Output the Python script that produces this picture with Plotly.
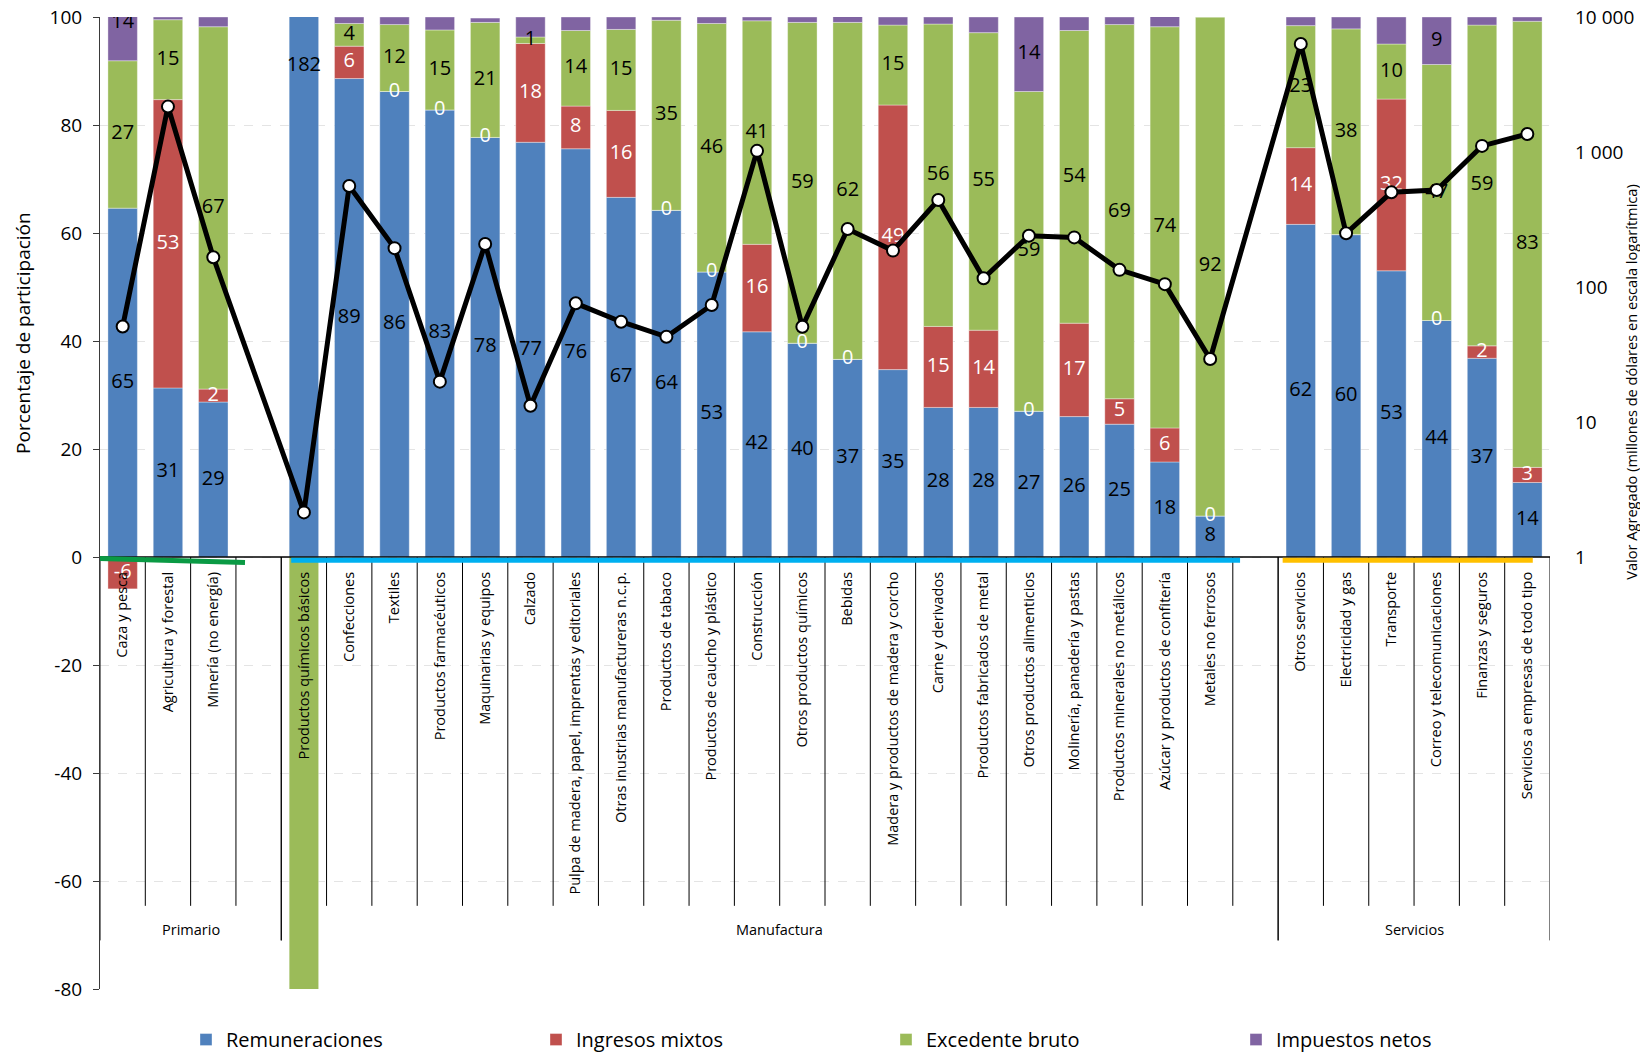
import plotly.graph_objects as go

FONT = "Open Sans"

# ---------------- data ----------------
grupos = ["Primario", "Manufactura", "Servicios"]

primario = ["Caza y pesca", "Agricultura y forestal", "Minería (no energía)"]
manufactura = [
    "Productos químicos básicos", "Confecciones", "Textiles", "Productos farmacéuticos",
    "Maquinarias y equipos", "Calzado", "Pulpa de madera, papel, imprentas y editoriales",
    "Otras inustrias manufactureras n.c.p.", "Productos de tabaco",
    "Productos de caucho y plástico", "Construcción", "Otros productos químicos", "Bebidas",
    "Madera y productos de madera y corcho", "Carne y derivados",
    "Productos fabricados de metal", "Otros productos alimenticios",
    "Molinería, panadería y pastas", "Productos minerales no metálicos",
    "Azúcar y productos de confitería", "Metales no ferrosos",
]
servicios = [
    "Otros servicios", "Electricidad y gas", "Transporte", "Correo y telecomunicaciones",
    "Finanzas y seguros", "Servicios a empresas de todo tipo",
]

remuneraciones = [64.6, 31.3, 28.7,
                  182, 88.6, 86.2, 82.8, 77.7, 76.8, 75.6, 66.6, 64.2, 52.8, 41.7, 39.6, 36.6,
                  34.7, 27.7, 27.7, 27.0, 26.0, 24.6, 17.6, 7.6,
                  61.6, 59.7, 53.0, 43.8, 36.8, 13.8]
ingresos_mixtos = [-5.9, 53.4, 2.4,
                   0, 6.0, 0, 0, 0, 18.3, 7.9, 16.1, 0, 0, 16.2, 0, 0,
                   49.0, 15.0, 14.3, 0, 17.3, 4.7, 6.3, 0,
                   14.2, 0, 31.8, 0, 2.3, 2.8]
excedente_bruto = [27.3, 14.8, 67.1,
                   -82, 4.2, 12.4, 14.8, 21.3, 1.2, 14.0, 15.0, 35.2, 46.0, 41.4, 59.4, 62.4,
                   14.8, 56.0, 55.1, 59.2, 54.2, 69.3, 74.3, 92.4,
                   22.6, 38.1, 10.2, 47.4, 59.4, 82.6]
impuestos_netos = [13.9, 0.5, 1.8,
                   0, 1.2, 1.4, 2.4, 0.8, 3.7, 2.5, 2.3, 0.6, 1.2, 0.7, 1.0, 1.1,
                   1.5, 1.3, 2.9, 13.8, 2.5, 1.4, 2.0, 0,
                   1.6, 2.2, 5.0, 8.8, 1.5, 0.8]
valor_agregado = [51, 2170, 166,
                  2.14, 560, 194, 19.9, 208, 13.2, 75.7, 55.3, 42.8, 73.5, 1020, 50.8, 269,
                  186, 441, 116, 240, 233, 134, 105, 29.3,
                  6310, 250, 503, 523, 1110, 1360]

pct_ticks = [-80, -60, -40, -20, 0, 20, 40, 60, 80, 100]
va_ticks = [1, 10, 100, 1000, 10000]
va_ticktext = ["1", "10", "100", "1 000", "10 000"]

# ---------------- styles ----------------
series = [
    ("Remuneraciones", remuneraciones, "#4F81BD", "black", None),
    ("Ingresos mixtos", ingresos_mixtos, "#C0504D", "white", None),
    ("Excedente bruto", excedente_bruto, "#9BBB59", "black", None),
    ("Impuestos netos", impuestos_netos, "#8064A2", "black", 8),
]
accent = [("#0A9A44", -0.0, 0.7), ("#00B0F0", 0.22, 0.66), ("#FFC000", 0.1, 0.12)]
Y_RANGE = [-80, 100]

# ---------------- positions (one blank slot between groups) ----------------
grupo_cats = [primario, manufactura, servicios]
pos, cats, spans = [], [], []
s = 0
for gi, gc in enumerate(grupo_cats):
    start = s
    for c in gc:
        pos.append(s)
        cats.append(c)
        s += 1
    last = s - 1
    if gi < len(grupo_cats) - 1:
        s += 1
    spans.append((start, s - 1, last))
n = len(pos)

fig = go.Figure()

for name, vals, col, tcol, thr in series:
    fig.add_trace(go.Bar(
        x=pos, y=vals, name=name, width=0.65,
        marker=dict(color=col, line=dict(width=0.6, color="rgba(255,255,255,0.6)")),
        hoverinfo="skip",
    ))

# segment labels centred in each stacked segment
pbase = [0.0] * n
nbase = [0.0] * n
for name, vals, col, tcol, thr in series:
    xs, ys, txt = [], [], []
    for i, v in enumerate(vals):
        if v >= 0:
            c = pbase[i] + v / 2
            pbase[i] += v
        else:
            c = nbase[i] + v / 2
            nbase[i] += v
        show = (v > -50 and (thr is None or v >= thr)
                and Y_RANGE[0] < c < Y_RANGE[1])
        if show:
            xs.append(pos[i])
            ys.append(c)
            txt.append(str(int(round(v))))
    fig.add_trace(go.Scatter(
        x=xs, y=ys, mode="text", text=txt,
        textfont=dict(color=tcol, size=20, family=FONT),
        showlegend=False, hoverinfo="skip",
    ))

fig.add_trace(go.Scatter(
    x=pos, y=valor_agregado, yaxis="y2", mode="lines+markers",
    line=dict(color="black", width=5),
    marker=dict(size=12, color="white", line=dict(color="black", width=2)),
    showlegend=False, hoverinfo="skip",
))

shapes = []
shapes.append(dict(type="line", xref="x", yref="y", x0=-0.5, x1=31.5, y0=0, y1=0,
                   line=dict(color="black", width=1.5), layer="above"))
for gi, (start, span_end, last) in enumerate(spans):
    for b in range(start, span_end):
        shapes.append(dict(type="line", xref="x", yref="y", x0=b + 0.5, x1=b + 0.5,
                           y0=0, y1=-64.6, line=dict(color="black", width=1), layer="above"))
    for b in (start - 0.5, span_end + 0.5):
        shapes.append(dict(type="line", xref="x", yref="y", x0=b, x1=b,
                           y0=0, y1=-71, line=dict(color="black", width=1), layer="above"))
    col, o0, o1 = accent[gi]
    x0 = start - 0.5 + o0
    x1 = last + o1
    y0, y1 = (-0.3, -1.0) if gi == 0 else (-0.6, -0.6)
    shapes.append(dict(type="line", xref="x", yref="y", x0=x0, x1=x1, y0=y0, y1=y1,
                       line=dict(color=col, width=5), layer="above"))

annotations = []
for gi, (start, span_end, last) in enumerate(spans):
    annotations.append(dict(x=(start + span_end) / 2, y=-69, xref="x", yref="y",
                            text=grupos[gi], showarrow=False,
                            font=dict(size=14.5, family=FONT, color="black"),
                            xanchor="center", yanchor="middle"))
annotations.append(dict(x=-0.0531, y=0.675, xref="paper", yref="paper",
                        text="Porcentaje de participación", textangle=-90, showarrow=False,
                        font=dict(size=19, family=FONT, color="black"),
                        xanchor="center", yanchor="middle"))
annotations.append(dict(x=1.0559, y=0.6238, xref="paper", yref="paper",
                        text="Valor Agregado (millones de dólares en escala logarítmica)",
                        textangle=-90, showarrow=False,
                        font=dict(size=14.6, family=FONT, color="black"),
                        xanchor="center", yanchor="middle"))

# page has an 8 px body margin: figure is 1632x1046 placed at (8, 8)
fig.update_layout(
    width=1632, height=1046,
    margin=dict(l=92, r=90, t=9, b=65, autoexpand=False),
    paper_bgcolor="white", plot_bgcolor="white",
    barmode="relative",
    font=dict(family=FONT, color="black"),
    showlegend=True,
    xaxis=dict(range=[-0.5, 31.5], tickmode="array", tickvals=pos, ticktext=cats,
               tickangle=-90, anchor="free", position=80 / 180,
               showline=False, showgrid=False, zeroline=False, ticks="",
               tickfont=dict(size=14.5, family=FONT, color="black"),
               ticklabelstandoff=11, fixedrange=True),
    yaxis=dict(range=Y_RANGE, tickmode="array", tickvals=pct_ticks,
               ticktext=[str(t) for t in pct_ticks],
               showline=True, linecolor="#3a3a3a",
               linewidth=1, ticks="outside", ticklen=6, tickcolor="#3a3a3a",
               tickfont=dict(size=19, family=FONT, color="black"),
               ticklabelstandoff=7, ticklabeloverflow="allow",
               showgrid=True, gridcolor="#e4e4e4", griddash="dash", gridwidth=1.3,
               zeroline=False),
    yaxis2=dict(type="log", range=[-3.2, 4], overlaying="y", side="right",
                tickmode="array", tickvals=va_ticks, ticktext=va_ticktext,
                showgrid=False, showline=False, zeroline=False, ticks="",
                tickfont=dict(size=19, family=FONT, color="black"),
                ticklabelstandoff=24, ticklabeloverflow="allow"),
    legend=dict(orientation="h", x=0.0593, xanchor="left", y=-0.052, yanchor="middle",
                font=dict(size=20, family=FONT, color="black"),
                entrywidth=305, entrywidthmode="pixels", traceorder="normal",
                bgcolor="rgba(0,0,0,0)"),
    shapes=shapes,
    annotations=annotations,
)

fig.write_html("out.html")
